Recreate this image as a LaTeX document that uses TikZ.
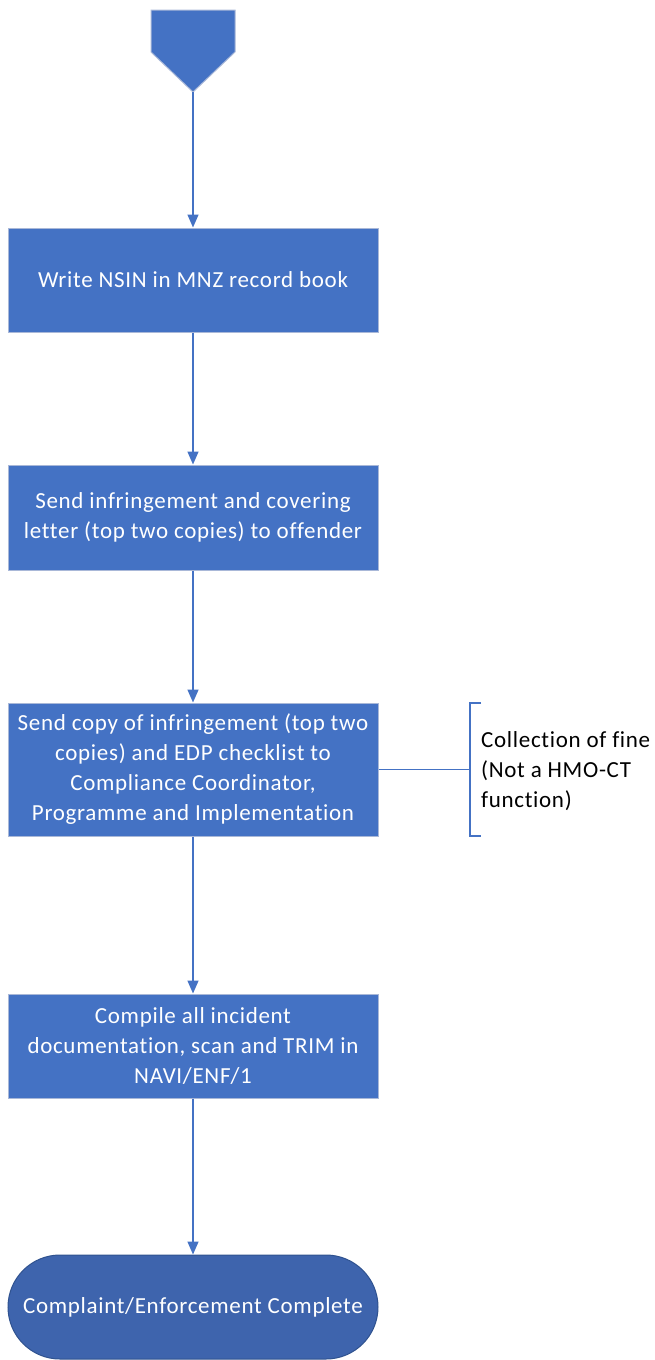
\documentclass[tikz,border=0pt]{standalone}
\usepackage{fontspec}
\setmainfont{Carlito}[LetterSpace=3,Ligatures={NoCommon,NoRare}]
\usetikzlibrary{arrows.meta,shapes.misc}
\definecolor{boxblue}{HTML}{4472C4}
\definecolor{boxedge}{HTML}{A9B8D8}
\definecolor{termfill}{HTML}{3E64AD}
\definecolor{termedge}{HTML}{2F528F}
\tikzset{
  x=1pt,y=-1pt,
  txt/.style={font=\fontsize{23}{30}\selectfont},
  procbox/.style={txt,draw=boxedge,line width=1pt,fill=boxblue,text=white,minimum width=370pt,
    inner sep=0pt,align=center},
  flow/.style={draw=boxblue,line width=1.5pt,-{Triangle[width=11pt,length=13pt]}},
  plain/.style={draw=boxblue,line width=1.4pt},
}
\begin{document}
\begin{tikzpicture}
\useasboundingbox (0,0) rectangle (655,1360);
% off-page connector
\draw[fill=boxblue,draw=boxedge,line width=1pt] (151,10) -- (235,10) -- (235,52) -- (193,92) -- (151,52) -- cycle;
\coordinate (start) at (193,92);
\node[procbox,minimum height=104pt] (b1) at (193,280) {Write NSIN in MNZ record book};
\node[procbox,minimum height=105pt] (b2) at (193,517.5) {Send infringement and covering\\letter (top two copies) to offender};
\node[procbox,minimum height=133pt] (b3) at (193,769.5) {Send copy of infringement (top two\\copies) and EDP checklist to\\Compliance Coordinator,\\Programme and Implementation};
\node[procbox,minimum height=104pt] (b4) at (193,1046) {Compile all incident\\documentation, scan and TRIM in\\NAVI/ENF/1};
\node[txt,draw=termedge,line width=1pt,fill=termfill,text=white,rounded rectangle,minimum width=370pt,minimum height=104pt,inner sep=0pt] (t) at (193,1307) {Complaint/Enforcement Complete};
\draw[flow] (start) -- (b1.north);
\draw[flow] (b1) -- (b2);
\draw[flow] (b2) -- (b3);
\draw[flow] (b3) -- (b4);
\draw[flow] (b4) -- (t);
% annotation
\coordinate (bk) at (470,769.5);
\draw[plain] (b3.east) -- (bk);
\draw[plain] (481,703) -- (470,703) -- (470,836) -- (481,836);
\node[txt,anchor=west,align=left,inner sep=0pt] (ann) at (481,771) {Collection of fine\\(Not a HMO-CT\\function)};
\end{tikzpicture}
\end{document}
